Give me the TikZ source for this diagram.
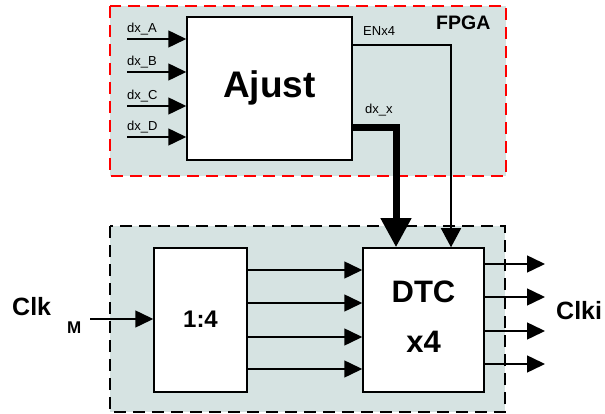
\documentclass[tikz,border=0pt]{standalone}
\usepackage{fontspec}
\setmainfont{Liberation Sans}
\usetikzlibrary{arrows.meta}
\definecolor{bgfill}{RGB}{214,227,226}
\begin{document}
\begin{tikzpicture}[x=1pt,y=-1pt,
  block/.style={draw=black,line width=1.5pt,fill=white,inner sep=0pt},
  sig/.style={line width=1.5pt,-{Triangle[length=18pt,width=17pt]}},
  small/.style={font=\fontsize{13}{13}\selectfont,inner sep=0pt},
  big/.style={font=\fontsize{#1}{#1}\selectfont\bfseries,inner sep=0pt},
  region/.style={fill=bgfill,dash pattern=on 12pt off 7pt}]
\useasboundingbox (0,0) rectangle (605,414);
% regions
\draw[region,draw=red,line width=2.5pt] (110,6) rectangle (506,176);
\draw[region,draw=black,line width=1.8pt] (110,226) rectangle (505,412);
% blocks
\node[block,minimum width=165pt,minimum height=143pt] (ajust) at (269.5,88.5) {};
\node[block,minimum width=93pt,minimum height=144pt] (div) at (200.5,320) {};
\node[block,minimum width=121pt,minimum height=144pt] (dtc) at (423.5,320) {};
% block texts
\node[big=37,anchor=base] (tajust) at (269.5,98) {Ajust};
\node[big=24,anchor=base] (tdiv) at (200.5,327) {1:4};
\node[big=31,anchor=base] (tdtc) at (423.5,302) {DTC};
\node[big=31,anchor=base] (tx4) at (423.5,352) {x4};
\node[big=19.5,anchor=base west] (fpga) at (436,30) {FPGA};
% Ajust inputs
\foreach \n/\y in {A/39,B/72,C/106,D/137}{
  \coordinate (in\n) at (127,\y);
  \draw[sig] (in\n) -- (ajust.west |- in\n);
  \node[small,anchor=base west] (l\n) at (127,\y-6) {dx\_\n};
}
% ENx4
\coordinate (enA) at (ajust.east |- 0,45);
\coordinate (enB) at (451,45);
\draw[line width=1.5pt,-{Triangle[length=19pt,width=20pt]}] (enA) -- (enB) -- (dtc.north -| enB);
\node[small,anchor=base west] (len) at (363,36) {ENx4};
% dx_x
\coordinate (dxA) at (ajust.east |- 0,128);
\coordinate (dxB) at (396,128);
\draw[line width=7pt,-{Triangle[length=29pt,width=29pt]}] (dxA) -- (dxB) -- (dtc.north -| dxB);
\node[small,anchor=base west] (ldx) at (365,114) {dx\_x};
% 1:4 -> DTC
\foreach \y [count=\i] in {270,303,337,369}{
  \coordinate (m\i) at (div.east |- 0,\y);
  \draw[sig] (m\i) -- (dtc.west |- m\i);
}
% outputs
\foreach \y [count=\i] in {264,297,331,364}{
  \coordinate (o\i) at (545,\y);
  \draw[sig] (dtc.east |- o\i) -- (o\i);
}
\node[big=25,anchor=base west] (clki) at (556,319) {Clki};
% Clk M
\coordinate (clkin) at (90,319);
\draw[sig] (clkin) -- (div.west |- clkin);
\node[big=25,anchor=base west] (clk) at (12,315) {Clk};
\node[big=17,anchor=base west] (clksub) at (67,333) {M};
\end{tikzpicture}
\end{document}
